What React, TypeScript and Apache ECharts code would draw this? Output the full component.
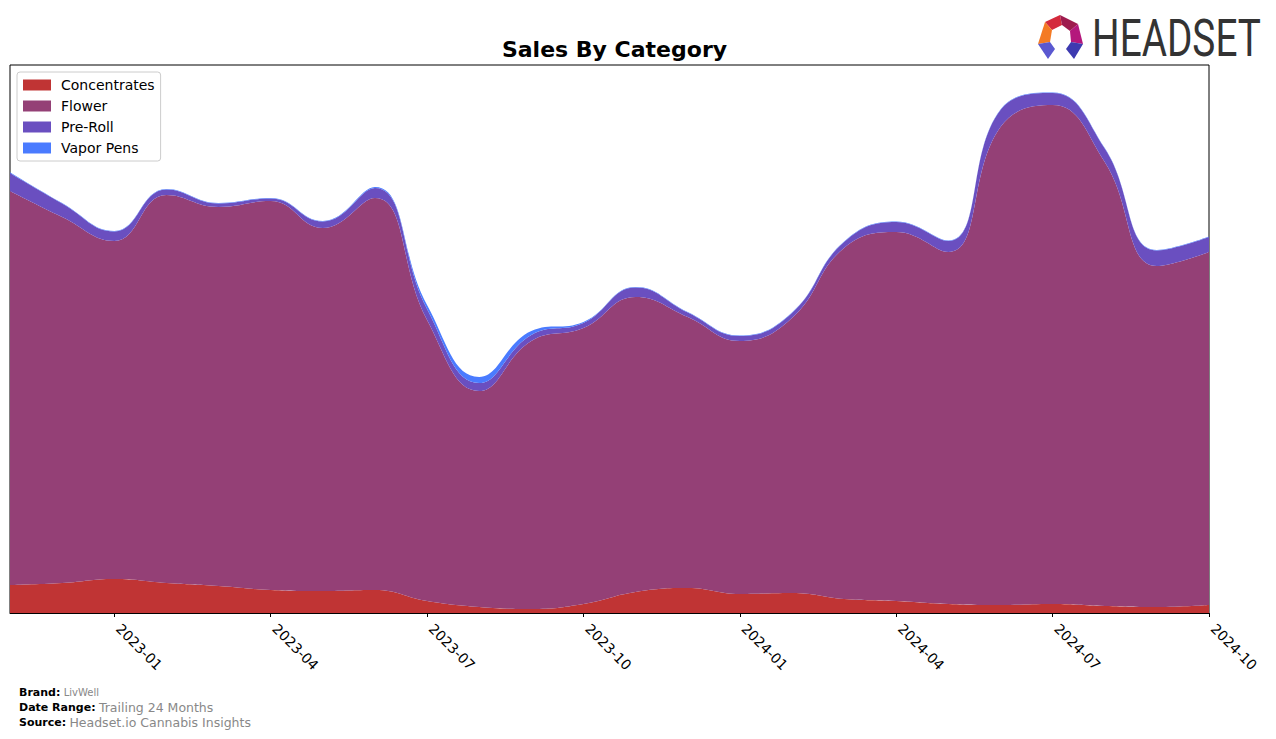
import React, { useEffect, useRef } from "react";
import * as echarts from "echarts";

const months = [
  "2022-11", "2022-12", "2023-01", "2023-02", "2023-03", "2023-04",
  "2023-05", "2023-06", "2023-07", "2023-08", "2023-09", "2023-10",
  "2023-11", "2023-12", "2024-01", "2024-02", "2024-03", "2024-04",
  "2024-05", "2024-06", "2024-07", "2024-08", "2024-09", "2024-10",
];
const concentrates = [28, 30, 34, 30, 27, 23, 22, 23, 12, 6, 4, 9, 21, 25, 19, 20, 14, 12, 9, 8, 9, 7, 6, 8];
const flower = [394, 366, 338, 388, 379, 389, 363, 392, 281, 216, 268, 276, 295, 271, 253, 275, 351, 369, 352, 478, 499, 444, 341, 353];
const preRoll = [18, 13.5, 9.5, 5.5, 3.5, 2.5, 6.5, 10, 11, 8, 6, 5, 9.5, 4.5, 5, 5, 6, 10, 11, 17, 12, 13.5, 15.5, 15];
const vaporPens = [0.8, 0.5, 0.5, 0.5, 0.5, 0.5, 0.5, 1, 4, 6, 4, 1, 0.5, 0.5, 0.5, 0.5, 0.5, 0.5, 0.5, 0.5, 0.5, 0.5, 0.5, 0.5];

const seriesNames = ["Concentrates", "Flower", "Pre-Roll", "Vapor Pens"];
const seriesColors = ["#c03434", "#944076", "#6a4fc0", "#4a7bff"];
const quarterTick = /-(01|04|07|10)$/;

export default function App() {
  const ref = useRef<HTMLDivElement>(null);
  useEffect(() => {
    if (!ref.current) return;
    const chart = echarts.init(ref.current, undefined, { renderer: "svg" });
    const datasets = [concentrates, flower, preRoll, vaporPens];
    const font = "DejaVu Sans";
    chart.setOption({
      animation: false,
      title: {
        text: "Sales By Category",
        left: 609.5,
        top: 33,
        textAlign: "center",
        textStyle: { fontFamily: font, fontWeight: "bold", fontSize: 22, color: "#000" },
      },
      legend: {
        orient: "vertical",
        left: 17,
        top: 72,
        data: seriesNames,
        icon: "rect",
        itemWidth: 28,
        itemHeight: 11,
        itemGap: 5,
        padding: [5, 6, 5, 6],
        borderColor: "#cccccc",
        borderWidth: 1,
        borderRadius: 3,
        backgroundColor: "#fff",
        textStyle: { fontFamily: font, fontSize: 14, color: "#000", lineHeight: 16, padding: [0, 0, 0, 5] },
      },
      grid: {
        left: 10,
        top: 65,
        width: 1199,
        height: 548,
        show: true,
        borderColor: "#000",
        borderWidth: 1,
        backgroundColor: "transparent",
      },
      xAxis: {
        type: "category",
        data: months,
        boundaryGap: false,
        axisLine: { lineStyle: { color: "#000", width: 1 } },
        axisTick: {
          show: true,
          alignWithLabel: true,
          length: 4,
          interval: (_i: number, v: string) => quarterTick.test(v),
          lineStyle: { color: "#000" },
        },
        axisLabel: {
          interval: (_i: number, v: string) => quarterTick.test(v),
          rotate: -45,
          margin: 9,
          padding: [0, 0, 0, 6],
          fontFamily: font,
          fontSize: 14,
          color: "#000",
        },
        splitLine: { show: false },
      },
      yAxis: {
        type: "value",
        min: 0,
        max: 548,
        show: false,
        splitLine: { show: false },
      },
      series: seriesNames.map((name, i) => ({
        name,
        type: "line",
        stack: "total",
        smooth: 0.45,
        symbol: "none",
        data: datasets[i],
        color: seriesColors[i],
        lineStyle: { width: 0 },
        areaStyle: { color: seriesColors[i], opacity: 1 },
        z: 2,
      })),
      graphic: [
        {
          type: "text",
          left: 19,
          top: 686,
          style: {
            text: "{b|Brand:} {g|LivWell}",
            rich: {
              b: { fontFamily: font, fontWeight: "bold", fontSize: 11, fill: "#000" },
              g: { fontFamily: font, fontSize: 10, fill: "#888" },
            },
          },
        },
        {
          type: "text",
          left: 19,
          top: 701,
          style: {
            text: "{b|Date Range:} {g|Trailing 24 Months}",
            rich: {
              b: { fontFamily: font, fontWeight: "bold", fontSize: 11, fill: "#000" },
              g: { fontFamily: font, fontSize: 12.5, fill: "#888" },
            },
          },
        },
        {
          type: "text",
          left: 19,
          top: 716,
          style: {
            text: "{b|Source:} {g|Headset.io Cannabis Insights}",
            rich: {
              b: { fontFamily: font, fontWeight: "bold", fontSize: 11, fill: "#000" },
              g: { fontFamily: font, fontSize: 12.5, fill: "#888" },
            },
          },
        },
        { type: "polygon", shape: { points: [[1045, 22], [1060, 15], [1062, 25], [1052, 30]] }, style: { fill: "#d42a3c" } },
        { type: "polygon", shape: { points: [[1060, 15], [1078, 24], [1070, 31], [1062, 25]] }, style: { fill: "#9e1b4e" } },
        { type: "polygon", shape: { points: [[1045, 22], [1052, 30], [1050, 42], [1038, 44]] }, style: { fill: "#f47a24" } },
        { type: "polygon", shape: { points: [[1078, 24], [1083, 44], [1071, 42], [1070, 31]] }, style: { fill: "#b4177c" } },
        { type: "polygon", shape: { points: [[1038, 44], [1050, 42], [1055, 49], [1048, 59]] }, style: { fill: "#5a58d0" } },
        { type: "polygon", shape: { points: [[1083, 44], [1071, 42], [1066, 49], [1074, 59]] }, style: { fill: "#3d3ab0" } },
        {
          type: "text",
          x: 1092,
          y: 38.5,
          scaleX: 0.76,
          style: {
            text: "HEADSET",
            fontFamily: "Roboto",
            fontSize: 51,
            verticalAlign: "middle",
            fill: "#333333",
          },
        },
      ],
    });
    return () => chart.dispose();
  }, []);
  return (
    <div
      ref={ref}
      style={{ position: "absolute", left: 0, top: 0, width: 1276, height: 739 }}
    />
  );
}
